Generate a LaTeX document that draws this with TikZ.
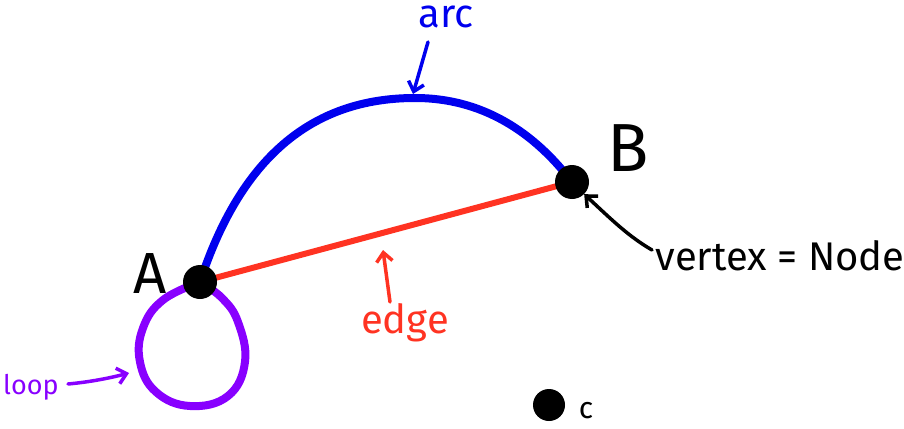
\documentclass[tikz,border=0pt]{standalone}
\usepackage{fontspec}
\setmainfont{Fira Sans}
\usetikzlibrary{arrows.meta}
\definecolor{arcblue}{HTML}{0000EE}
\definecolor{edgered}{HTML}{FF3322}
\definecolor{looppurple}{HTML}{8800FF}
\tikzset{
  vtx/.style={circle,fill=black,inner sep=0pt,minimum size=34pt},
  lbl/.style={inner sep=0pt,anchor=base},
  pointer/.style={line width=3.5pt,line cap=round,-{Straight Barb[length=9pt,width=16pt,line width=3.5pt]}},
}
\begin{document}
\begin{tikzpicture}[x=1pt,y=-1pt]
\useasboundingbox (0,0) rectangle (904,428);
% vertices (coordinates first, drawn last)
\coordinate (Ac) at (200,282);
\coordinate (Bc) at (572,182);
% edges
\draw[arcblue,line width=8pt] (Ac) .. controls (240,160) and (310,98) .. (415,98)
      .. controls (490,98) and (540,140) .. (Bc);
\draw[edgered,line width=6pt] (Ac) -- (Bc);
\draw[looppurple,line width=8pt,line join=round] plot[smooth,tension=0.7] coordinates
  {(Ac) (163,300) (143,328) (140,362) (156,392) (190,406) (228,396) (245,362) (238,322) (222,298) (Ac)};
\node[vtx] (A) at (Ac) {};
\node[vtx] (B) at (Bc) {};
\node[vtx,minimum size=32pt] (C) at (549,405) {};
% vertex labels
\node[lbl,font=\fontsize{58}{58}\selectfont] (lA) at (150,293) {A};
\node[lbl,font=\fontsize{68}{68}\selectfont] (lB) at (628,171) {B};
\node[lbl,font=\fontsize{30}{30}\selectfont] (lC) at (586,418) {c};
% annotations
\node[lbl,arcblue,font=\fontsize{40}{40}\selectfont] (tarc) at (446,28) {arc};
\coordinate (arcpt) at (413,94);
\draw[pointer,arcblue] (428,42) -- (arcpt);
\node[lbl,edgered,font=\fontsize{40}{40}\selectfont] (tedge) at (405,333) {edge};
\coordinate (edgept) at (383,250);
\draw[pointer,edgered] (390,302) -- (edgept);
\node[lbl,font=\fontsize{40}{40}\selectfont] (tvert) at (780,270) {vertex = Node};
\draw[pointer] (652,250) .. controls (628,236) and (612,220) .. (B.south east);
\node[lbl,anchor=base west,looppurple,font=\fontsize{27}{27}\selectfont] (tloop) at (3,394) {loop};
\coordinate (looppt) at (129,373);
\draw[pointer,looppurple] (68,384) .. controls (90,382) and (110,378) .. (looppt);
\end{tikzpicture}
\end{document}
